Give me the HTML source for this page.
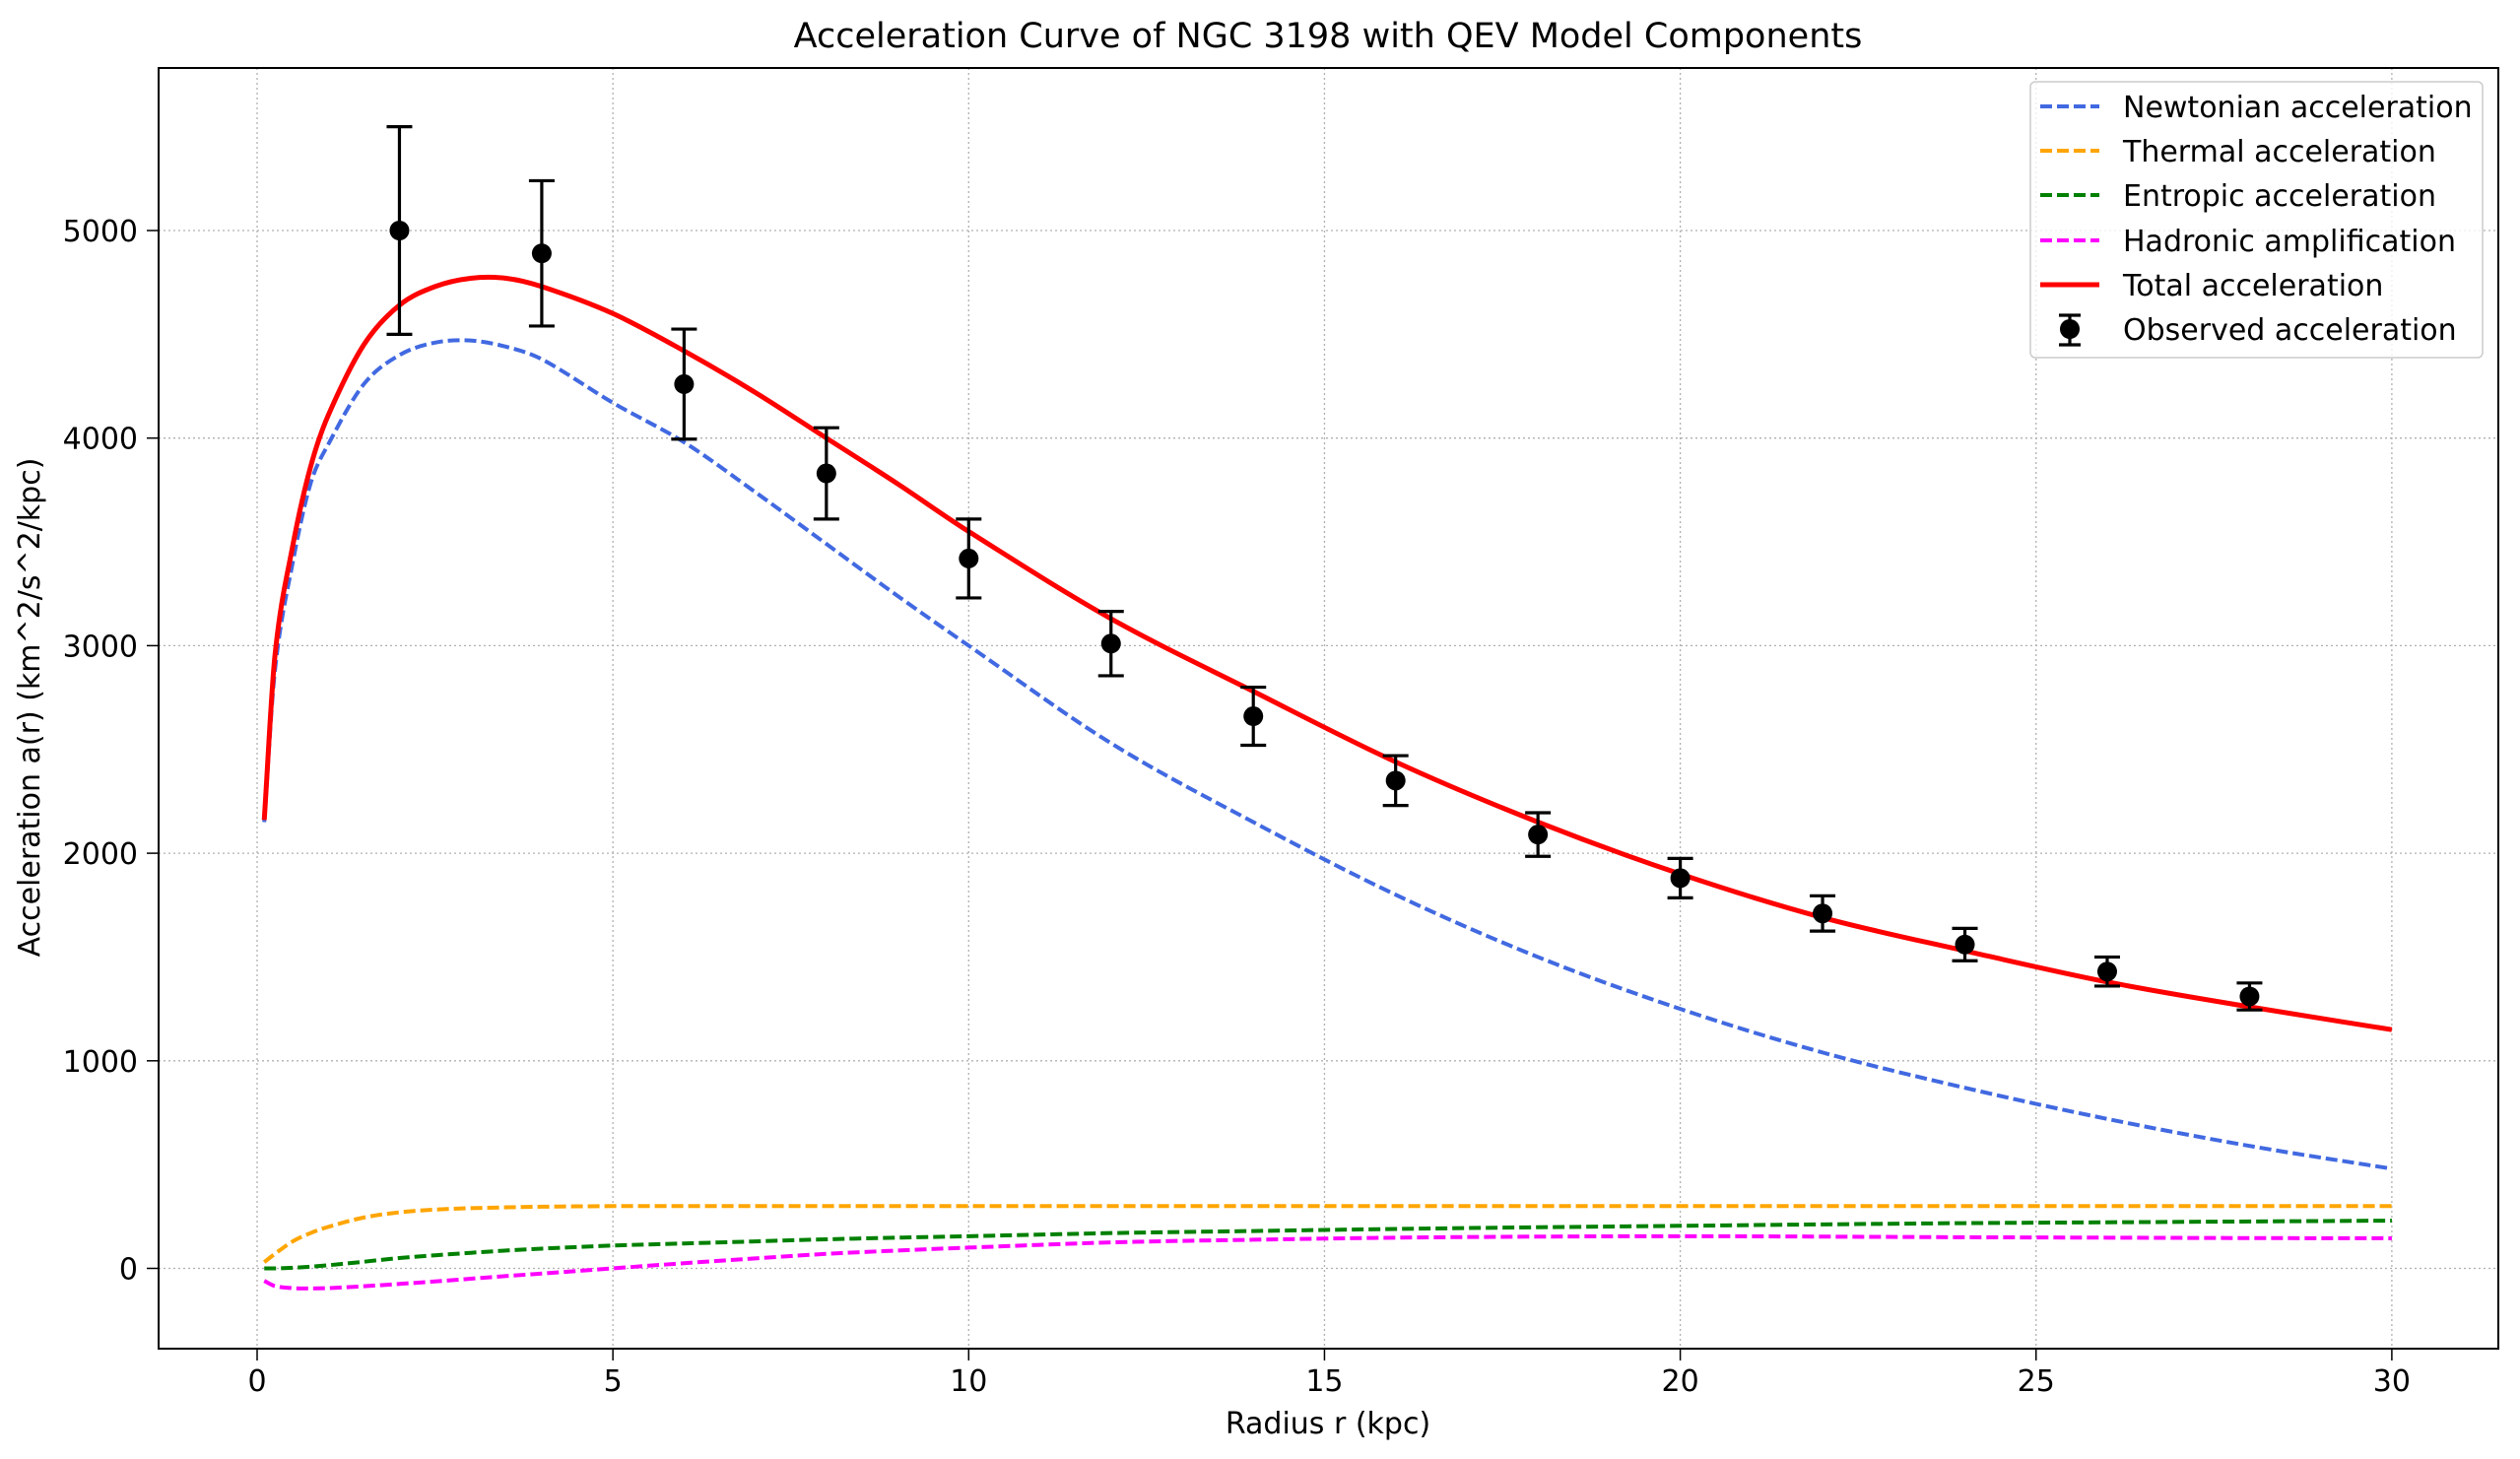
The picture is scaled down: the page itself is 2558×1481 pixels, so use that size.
<!DOCTYPE html>
<html><head><meta charset="utf-8">
<style>
html,body{margin:0;padding:0;background:#fff;}
svg{display:block;font-family:"DejaVu Sans","Liberation Sans",sans-serif;}
</style></head>
<body>
<svg id="chart" width="2558" height="1481" viewBox="0 0 2558 1481" xmlns="http://www.w3.org/2000/svg">
<rect width="2558" height="1481" fill="#fff"/>
<text x="1348" y="48" font-size="35" text-anchor="middle" fill="#000">Acceleration Curve of NGC 3198 with QEV Model Components</text>
<g id="grid"></g>
<g id="series"></g>
<rect x="161" y="69" width="2375" height="1300" fill="none" stroke="#000" stroke-width="2"/>
<g id="axes"></g>
<text x="1348" y="1455" font-size="30" text-anchor="middle">Radius r (kpc)</text>
<text transform="translate(40,718) rotate(-90)" font-size="30" text-anchor="middle">Acceleration a(r) (km^2/s^2/kpc)</text>
<g id="legend"></g>
</svg>
<script>
const xTicks = [0,5,10,15,20,25,30];
const yTicks = [0,1000,2000,3000,4000,5000];
const r = [0.1,0.25,0.5,0.75,1,1.5,2,2.5,3,3.5,4,5,6,7,8,9,10,12,14,16,18,20,22,24,26,28,30];
const newtonian = [2150,2880,3400,3780,3970,4260,4400,4460,4470,4440,4380,4170,3980,3740,3490,3240,3000,2530,2150,1800,1500,1250,1040,870,720,590,480];
const thermal = [30,70,130,170,200,245,270,283,290,294,297,300,300,300,300,300,300,300,300,300,300,300,300,300,300,300,300];
const entropic = [0,0,3,8,15,32,50,63,75,86,95,110,120,130,140,148,155,170,180,190,198,205,212,218,222,226,230];
const hadronic = [-60,-85,-95,-97,-95,-86,-75,-63,-50,-37,-25,0,25,48,70,86,100,125,138,148,153,155,153,150,148,146,145];
const total = [2160,2950,3480,3860,4110,4450,4640,4730,4770,4770,4730,4600,4420,4220,4000,3780,3550,3130,2780,2440,2150,1900,1690,1530,1380,1260,1150];
const obsR = [2,4,6,8,10,12,14,16,18,20,22,24,26,28];
const obsA = [5000,4890,4260,3830,3420,3010,2660,2350,2090,1880,1710,1560,1430,1310];
const obsErr = [500,350,265,220,190,155,140,120,105,95,85,78,70,65];

const NS='http://www.w3.org/2000/svg';
const X = v => 261 + v*72.23;
const Y = v => 1287.5 - v*0.2107;
function mk(tag, attrs, parent){const e=document.createElementNS(NS,tag);for(const k in attrs)e.setAttribute(k,attrs[k]);parent.appendChild(e);return e;}
const grid=document.getElementById('grid'), axes=document.getElementById('axes'), series=document.getElementById('series'), legend=document.getElementById('legend');

xTicks.forEach(t=>{
  const g=mk('line',{x1:X(t),x2:X(t),y1:69,y2:1369,stroke:'#b0b0b0','stroke-width':1.3,'stroke-dasharray':'2,3'},grid);
  
  
  const tk=mk('line',{x1:X(t),x2:X(t),y1:1369,y2:1381,stroke:'#000','stroke-width':1.5},axes);
  
  
  const lb=mk('text',{x:X(t),y:1412,'font-size':30,'text-anchor':'middle'},axes);
  lb.textContent=t;
  
  
});
yTicks.forEach(t=>{
  const g=mk('line',{x1:161,x2:2536,y1:Y(t),y2:Y(t),stroke:'#b0b0b0','stroke-width':1.3,'stroke-dasharray':'2,3'},grid);
  
  
  const tk=mk('line',{x1:149,x2:161,y1:Y(t),y2:Y(t),stroke:'#000','stroke-width':1.5},axes);
  
  
  const lb=mk('text',{x:140,y:Y(t)+11,'font-size':30,'text-anchor':'end'},axes);
  lb.textContent=t;
  
  
});

function pathFor(xs, ys){
  const n=xs.length, m=[];
  for(let i=0;i<n;i++){
    const a=Math.max(0,i-1), b=Math.min(n-1,i+1);
    m.push((ys[b]-ys[a])/(xs[b]-xs[a]));
  }
  let d='M'+X(xs[0])+','+Y(ys[0]);
  for(let i=0;i<n-1;i++){
    const h=xs[i+1]-xs[i];
    const c1x=xs[i]+h/3, c1y=ys[i]+m[i]*h/3;
    const c2x=xs[i+1]-h/3, c2y=ys[i+1]-m[i+1]*h/3;
    d+=' C'+X(c1x)+','+Y(c1y)+' '+X(c2x)+','+Y(c2y)+' '+X(xs[i+1])+','+Y(ys[i+1]);
  }
  return d;
}
const lines=[
  {vals:newtonian,color:'#4169e1',dash:'12,5',w:4,name:'newtonian-line',label:'Newtonian acceleration'},
  {vals:thermal,color:'#ffa500',dash:'12,5',w:4,name:'thermal-line',label:'Thermal acceleration'},
  {vals:entropic,color:'#008000',dash:'12,5',w:4,name:'entropic-line',label:'Entropic acceleration'},
  {vals:hadronic,color:'#ff00ff',dash:'12,5',w:4,name:'hadronic-line',label:'Hadronic amplification'},
  {vals:total,color:'#ff0000',dash:null,w:5,name:'total-line',label:'Total acceleration'}
];
lines.forEach(l=>{
  const a={d:pathFor(r,l.vals),fill:'none',stroke:l.color,'stroke-width':l.w};
  if(l.dash)a['stroke-dasharray']=l.dash;
  const e=mk('path',a,series);
  
  
});
obsR.forEach((x,i)=>{
  const g=mk('g',{},series);
  
  
  const cx=X(x),lo=Y(obsA[i]-obsErr[i]),hi=Y(obsA[i]+obsErr[i]);
  mk('line',{x1:cx,x2:cx,y1:lo,y2:hi,stroke:'#000','stroke-width':3.2},g);
  mk('line',{x1:cx-13,x2:cx+13,y1:lo,y2:lo,stroke:'#000','stroke-width':3.2},g);
  mk('line',{x1:cx-13,x2:cx+13,y1:hi,y2:hi,stroke:'#000','stroke-width':3.2},g);
  mk('circle',{cx:cx,cy:Y(obsA[i]),r:10,fill:'#000'},g);
});

// legend
mk('rect',{x:2061,y:83,width:459,height:280,rx:5,fill:'#fff','fill-opacity':0.8,stroke:'#ccc','stroke-width':1.5},legend);
const rows=[108,153,198,244,289,334];
lines.forEach((l,i)=>{
  const g=mk('g',{},legend);
  
  
  const a={x1:2071,x2:2131,y1:rows[i],y2:rows[i],stroke:l.color,'stroke-width':l.w};
  if(l.dash)a['stroke-dasharray']=l.dash;
  mk('line',a,g);
  const t=mk('text',{x:2155,y:rows[i]+11,'font-size':30},g);
  t.textContent=l.label;
});
const g=mk('g',{},legend);


mk('line',{x1:2101,x2:2101,y1:320,y2:350,stroke:'#000','stroke-width':3.2},g);
mk('line',{x1:2090,x2:2112,y1:320,y2:320,stroke:'#000','stroke-width':3.2},g);
mk('line',{x1:2090,x2:2112,y1:350,y2:350,stroke:'#000','stroke-width':3.2},g);
mk('circle',{cx:2101,cy:334,r:10,fill:'#000'},g);
const t=mk('text',{x:2155,y:345,'font-size':30},g);
t.textContent='Observed acceleration';
</script>
</body></html>
